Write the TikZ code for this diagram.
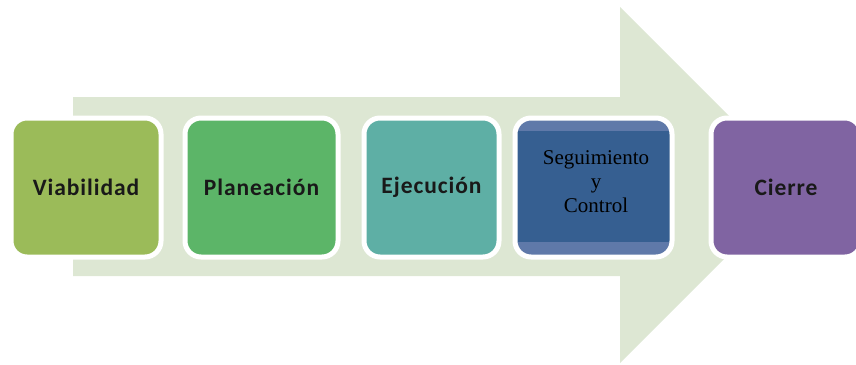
\documentclass[tikz,border=0pt]{standalone}
\usepackage{fontspec}
\newfontfamily\calfont{Carlito}[LetterSpace=4]
\newfontfamily\tmsfont{Liberation Serif}
\definecolor{arrowc}{HTML}{DDE7D3}
\definecolor{viac}{HTML}{9BBB59}
\definecolor{plac}{HTML}{5CB568}
\definecolor{ejec}{HTML}{5EAFA5}
\definecolor{segouter}{HTML}{5F79A9}
\definecolor{seginner}{HTML}{365F91}
\definecolor{cierc}{HTML}{8064A2}
\tikzset{
  stage/.style={draw=white, line width=5pt, rounded corners=16pt, inner sep=0pt,
    minimum height=139pt, text=black!90, font=\calfont\bfseries\fontsize{23.5}{28}\selectfont},
  segstage/.style={stage,
    path picture={\fill[seginner, sharp corners] ([yshift=-13pt]path picture bounding box.north west) rectangle ([yshift=15pt]path picture bounding box.south east);}},
  segtext/.style={font=\tmsfont\fontsize{21}{24}\selectfont, align=center, inner sep=0pt, text=black}
}
\begin{document}
\begin{tikzpicture}[x=1pt,y=-1pt]
\useasboundingbox (0,0) rectangle (856,364);
\fill[arrowc] (73,97) -- (620,97) -- (620,7) -- (798,185) -- (620,363) -- (620,276) -- (73,276) -- cycle;
\node[stage, fill=viac, minimum width=150pt] (via) at (86,187.5) {Viabilidad};
\node[stage, fill=plac, minimum width=153pt] (pla) at (261.5,187.5) {Planeación};
\node[stage, fill=ejec, minimum width=135pt] (eje) at (431.5,187.5) {Ejecución};
\node[segstage, fill=segouter, minimum width=157pt] (seg) at (593.5,187.5) {};
\node[segtext] (segt) at (596,182) {Seguimiento\\y\\Control};
\node[stage, fill=cierc, minimum width=150pt] (cie) at (786,187.5) {Cierre};
\end{tikzpicture}
\end{document}
